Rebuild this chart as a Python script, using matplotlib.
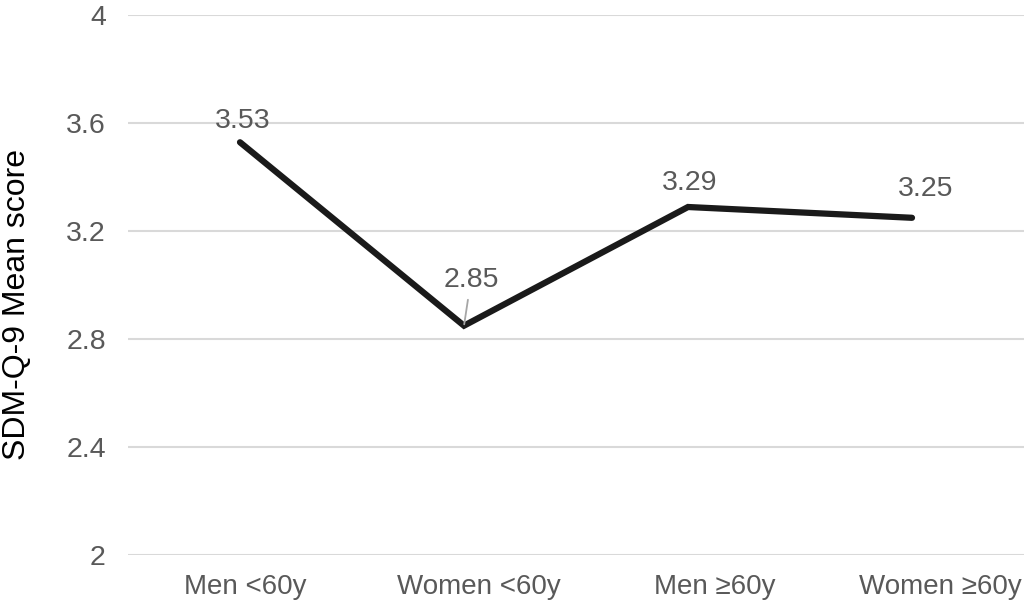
import matplotlib.pyplot as plt
from matplotlib.transforms import ScaledTranslation

plt.rcParams['font.family'] = ['Liberation Sans', 'DejaVu Sans']

categories = ['Men <60y', 'Women <60y', 'Men \u226560y', 'Women \u226560y']
mean_scores = [3.53, 2.85, 3.29, 3.25]
# label offsets (points) relative to each point
label_offsets = [(2, 15), (5, 33), (1, 17), (10, 21)]
# horizontal nudge of the category labels (pixels)
xlabel_nudge = [5, 15, 27, 28]

yticks = [2, 2.4, 2.8, 3.2, 3.6, 4]
ytick_labels = ['2', '2.4', '2.8', '3.2', '3.6', '4']

grey = '#595959'

fig = plt.figure(figsize=(10.24, 6.07), dpi=100)
ax = fig.add_axes([0.125, 0.0857, 0.875, 0.8888])

x = list(range(len(categories)))
ax.plot(x, mean_scores, color='#1a1a1a', linewidth=4.5, solid_joinstyle='miter',
        solid_capstyle='round', zorder=3)

for i, (xi, val) in enumerate(zip(x, mean_scores)):
    dx, dy = label_offsets[i]
    if i == 1:
        # leader line from the label down to the point
        ax.annotate(f'{val:.2f}', xy=(xi, val), xytext=(dx, dy), textcoords='offset points',
                    ha='center', va='center', fontsize=20.5, color=grey,
                    arrowprops=dict(arrowstyle='-', color='#a6a6a6', lw=1.3,
                                    shrinkA=3, shrinkB=1))
    else:
        ax.annotate(f'{val:.2f}', xy=(xi, val), xytext=(dx, dy), textcoords='offset points',
                    ha='center', va='center', fontsize=20.5, color=grey)

ax.set_xlim(-0.5, len(categories) - 0.5)
ax.set_ylim(2, 4)
ax.set_yticks(yticks)
ax.set_yticklabels(ytick_labels)
ax.set_xticks(x)
ax.set_xticklabels(categories, fontsize=20)
ax.tick_params(axis='both', length=0, labelcolor=grey)
ax.tick_params(axis='y', pad=16, labelsize=20.5)
ax.tick_params(axis='x', pad=14)
for lbl, nudge in zip(ax.get_xticklabels(), xlabel_nudge):
    lbl.set_transform(lbl.get_transform() + ScaledTranslation(nudge / 100, 0, fig.dpi_scale_trans))
ax.yaxis.grid(True, color='#d9d9d9', linewidth=1.5)
ax.set_axisbelow(True)
for s in ax.spines.values():
    s.set_visible(False)

ax.set_ylabel('SDM-Q-9 Mean score', fontsize=23, color='black')
ax.yaxis.set_label_coords(-0.107, 0.465)

plt.savefig('out.png', dpi=100)
plt.close()
